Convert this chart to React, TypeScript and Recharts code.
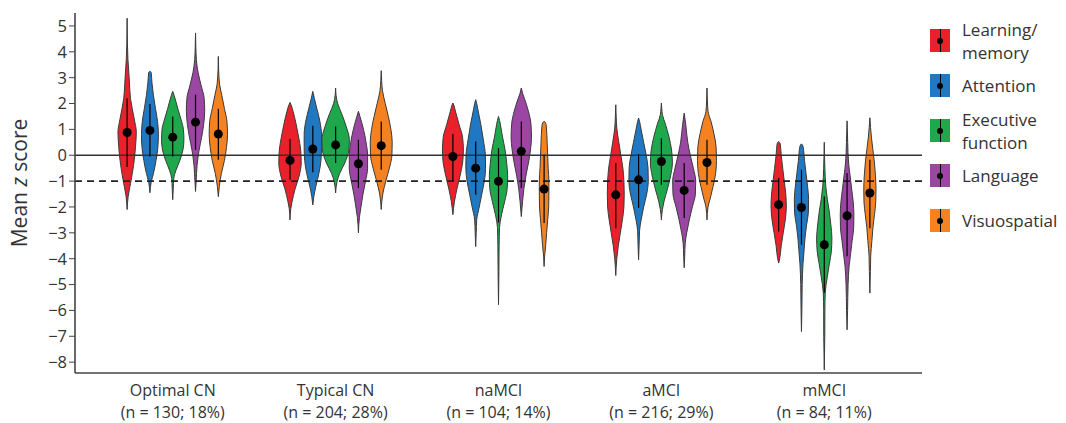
import {
  ComposedChart,
  Area,
  Scatter,
  ErrorBar,
  XAxis,
  YAxis,
  ReferenceLine,
} from "recharts";

const groups = ["Optimal CN", "Typical CN", "naMCI", "aMCI", "mMCI"];
const groupSizes = [
  "(n = 130; 18%)",
  "(n = 204; 28%)",
  "(n = 104; 14%)",
  "(n = 216; 29%)",
  "(n = 84; 11%)",
];
const domainLabels = [
  ["Learning/", "memory"],
  ["Attention"],
  ["Executive", "function"],
  ["Language"],
  ["Visuospatial"],
];
const domainColors = ["#e8212b", "#1f78c1", "#1ea84b", "#9a46a2", "#f58221"];
const yTicks = [-8, -7, -6, -5, -4, -3, -2, -1, 0, 1, 2, 3, 4, 5];

// mean z per group (rows) and domain (columns)
const means = [
  [0.88, 0.96, 0.7, 1.28, 0.82],
  [-0.2, 0.24, 0.4, -0.33, 0.37],
  [-0.05, -0.5, -1.01, 0.15, -1.31],
  [-1.53, -0.95, -0.24, -1.36, -0.28],
  [-1.91, -2.02, -3.46, -2.34, -1.46],
];
const whiskerLow = [
  [-0.45, -0.05, -0.05, 0.21, -0.17],
  [-0.95, -0.66, -0.3, -1.27, -0.56],
  [-1.0, -1.53, -2.6, -1.27, -2.62],
  [-2.82, -2.04, -1.14, -2.43, -1.14],
  [-2.95, -3.46, -5.33, -3.91, -2.82],
];
const whiskerHigh = [
  [2.2, 1.98, 1.5, 2.34, 1.8],
  [0.63, 1.14, 1.11, 0.6, 1.3],
  [0.82, 0.53, 0.28, 1.3, 0.02],
  [-0.3, 0.05, 0.66, -0.3, 0.6],
  [-0.88, -0.56, -1.6, -0.69, -0.17],
];

// violin outlines: [z, half width] read top to bottom
const optimalCnViolins = [
  [[5.3, 0], [4.3, 0.3], [3.7, 0.8], [3.0, 2], [2.2, 3.3], [1.4, 7], [0.9, 9], [0.35, 8.3], [-0.4, 6.3], [-1.1, 3.3], [-1.6, 1], [-2.1, 0]],
  [[3.25, 0], [3.2, 1.2], [2.8, 2], [2.3, 3.5], [1.8, 5.5], [1.3, 7.5], [0.8, 8.3], [0.3, 7.8], [-0.2, 6], [-0.7, 3.5], [-1.05, 1.2], [-1.45, 0]],
  [[2.47, 0], [2.3, 1.5], [1.8, 5], [1.4, 8], [1.0, 10.5], [0.6, 11], [0.2, 10], [-0.2, 7], [-0.6, 3], [-0.9, 1], [-1.3, 0.5], [-1.72, 0]],
  [[4.73, 0], [4.2, 0.3], [3.7, 0.8], [3.2, 2.5], [2.7, 5.5], [2.2, 8.5], [1.7, 9], [1.2, 8], [0.7, 6], [0.2, 3.5], [-0.4, 1.5], [-1.0, 0.6], [-1.4, 0]],
  [[3.82, 0], [3.3, 0.3], [2.75, 1.2], [2.3, 3.5], [1.8, 6], [1.3, 8.5], [0.8, 9], [0.3, 8], [-0.2, 6], [-0.7, 3], [-1.2, 1], [-1.6, 0]],
];
const typicalCnViolins = [
  [[2.04, 0], [1.9, 1.5], [1.7, 3], [1.2, 6], [0.7, 8.5], [0.2, 10.5], [-0.3, 11], [-0.8, 9], [-1.3, 5], [-1.8, 2], [-2.05, 0.8], [-2.5, 0]],
  [[2.47, 0], [2.2, 1.5], [1.8, 4], [1.3, 7], [0.8, 8.5], [0.3, 8.5], [-0.2, 8], [-0.7, 6], [-1.2, 3], [-1.6, 1], [-1.92, 0]],
  [[2.6, 0], [2.3, 0.5], [2.0, 2], [1.6, 6], [1.1, 10.5], [0.6, 13.5], [0.2, 13], [-0.3, 9], [-0.7, 4], [-1.0, 1.5], [-1.46, 0]],
  [[1.7, 0], [1.5, 1.5], [1.0, 5], [0.5, 7.5], [0, 9], [-0.5, 9], [-1.0, 7], [-1.5, 4.5], [-2.0, 2.5], [-2.4, 1], [-3.0, 0]],
  [[3.27, 0], [2.9, 0.4], [2.5, 1.2], [2.0, 4], [1.5, 7], [1.0, 9.5], [0.5, 10.8], [0, 10.5], [-0.5, 8], [-1.0, 4.5], [-1.5, 1.5], [-2.1, 0]],
];
const naMciViolins = [
  [[2.02, 0], [1.9, 1.2], [1.7, 2.5], [1.2, 6], [0.7, 9.5], [0.2, 10.3], [-0.3, 9.5], [-0.8, 7], [-1.3, 4], [-1.8, 1.5], [-2.3, 0]],
  [[2.15, 0], [2.0, 1], [1.8, 2], [1.2, 5], [0.6, 7.5], [0, 9.5], [-0.5, 9.7], [-1.0, 8.5], [-1.5, 6], [-2.0, 3.5], [-2.5, 1], [-3.0, 0.5], [-3.53, 0]],
  [[1.5, 0], [1.35, 1], [1.2, 1.8], [0.7, 4], [0.2, 6.5], [-0.3, 8], [-0.8, 9], [-1.3, 8.5], [-1.8, 6], [-2.3, 3], [-2.8, 1], [-3.5, 0.6], [-4.5, 0.4], [-5.78, 0]],
  [[2.6, 0], [2.4, 1.2], [2.2, 3], [1.7, 7], [1.2, 9.5], [0.7, 10], [0.2, 9], [-0.3, 7], [-0.8, 4.5], [-1.3, 2.5], [-1.8, 1.2], [-2.37, 0]],
  [[1.31, 0], [1.25, 1.5], [1.1, 2.2], [0.5, 3], [0, 3.5], [-0.5, 4], [-1.0, 4.7], [-1.5, 4.7], [-2.0, 4.5], [-2.5, 3.5], [-3.0, 2.5], [-3.5, 1.5], [-3.9, 0.5], [-4.3, 0]],
];
const aMciViolins = [
  [[1.95, 0], [1.5, 0.4], [1.05, 1], [0.5, 3], [0, 5], [-0.5, 7], [-1.0, 8], [-1.5, 8.3], [-2.0, 8], [-2.5, 6.5], [-3.0, 4.5], [-3.5, 2.5], [-4.0, 1], [-4.65, 0]],
  [[1.44, 0], [1.3, 1], [1.0, 2.5], [0.5, 5], [0, 7.5], [-0.5, 9.3], [-1.0, 9.5], [-1.5, 8], [-2.0, 5], [-2.5, 2.5], [-2.9, 1], [-3.5, 0.5], [-4.04, 0]],
  [[2.02, 0], [1.8, 0.4], [1.57, 1], [1.2, 4], [0.7, 7.5], [0.2, 10], [-0.3, 10.8], [-0.8, 9], [-1.3, 6], [-1.8, 2.5], [-2.1, 1], [-2.5, 0]],
  [[1.63, 0], [1.4, 0.8], [1.2, 1.5], [0.5, 3.5], [0, 6], [-0.5, 9], [-1.0, 11.3], [-1.5, 11], [-2.0, 8], [-2.5, 5], [-3.0, 2.5], [-3.4, 1], [-3.9, 0.5], [-4.35, 0]],
  [[2.6, 0], [2.1, 0.4], [1.7, 1], [1.3, 4], [0.8, 7], [0.3, 9], [-0.2, 9.3], [-0.7, 8.5], [-1.2, 6], [-1.7, 3], [-2.0, 1], [-2.5, 0]],
];
const mMciViolins = [
  [[0.53, 0], [0.45, 1.5], [0, 2.5], [-0.5, 4], [-1.0, 5.5], [-1.5, 7], [-2.0, 7.5], [-2.5, 6.5], [-3.0, 4.5], [-3.5, 2.5], [-4.0, 1], [-4.17, 0]],
  [[0.44, 0], [0.35, 1.5], [-0.2, 3], [-0.7, 4.5], [-1.2, 6], [-1.7, 7], [-2.2, 6.8], [-2.7, 5], [-3.2, 3.5], [-3.7, 2.5], [-4.2, 1.5], [-5.0, 0.7], [-6.0, 0.4], [-6.82, 0]],
  [[0.5, 0], [-0.5, 0.6], [-1.2, 1.5], [-1.7, 3], [-2.2, 5], [-2.7, 6.5], [-3.2, 7.5], [-3.7, 7], [-4.2, 5], [-4.7, 3], [-5.3, 1], [-6.0, 0.6], [-7.0, 0.5], [-8.3, 0]],
  [[1.33, 0], [0.5, 0.6], [-0.3, 1.5], [-0.8, 3], [-1.3, 4.5], [-1.8, 6], [-2.3, 6.7], [-2.8, 6.5], [-3.3, 5], [-3.8, 3.5], [-4.3, 2], [-5.0, 1], [-6.0, 0.5], [-6.75, 0]],
  [[1.45, 0], [0.7, 1.5], [0.2, 3], [-0.3, 4.5], [-0.8, 5.5], [-1.3, 6], [-1.8, 5.8], [-2.3, 4.5], [-2.8, 3], [-3.3, 2], [-3.9, 0.8], [-4.5, 0.5], [-5.33, 0]],
];
const violins = [optimalCnViolins, typicalCnViolins, naMciViolins, aMciViolins, mMciViolins];

const DODGE = 0.14; // spacing between domains inside a group (x units)
const WIDTH_UNIT = 0.00625; // half width unit -> x units

const violinSeries = violins.flatMap((groupViolins, g) =>
  groupViolins.map((profile, d) => {
    const center = g + 1 + (d - 2) * DODGE;
    const data = [...profile]
      .sort((a, b) => a[0] - b[0])
      .map(([z, w]) => ({ y: z, range: [center - w * WIDTH_UNIT, center + w * WIDTH_UNIT] }));
    return { key: `v-${g}-${d}`, color: domainColors[d], data };
  })
);

const summaryPoints = means.flatMap((row, g) =>
  row.map((m, d) => ({
    x: g + 1 + (d - 2) * DODGE,
    y: m,
    err: [m - whiskerLow[g][d], whiskerHigh[g][d] - m],
  }))
);

const FONT = "'Open Sans', 'Noto Sans', sans-serif";

// two-line category label under each group
const GroupTick = (props: any) => {
  const { x, y, payload } = props;
  const i = payload.value - 1;
  return (
    <g>
      <text x={x} y={y + 15} textAnchor="middle" fill="#333" fontSize={16} fontFamily={FONT}>
        {groups[i]}
      </text>
      <text x={x} y={y + 37} textAnchor="middle" fill="#333" fontSize={16} fontFamily={FONT}>
        {groupSizes[i]}
      </text>
    </g>
  );
};

const YLabel = (props: any) => {
  const vb = props.viewBox || { x: 0, y: 0, width: 0, height: 0 };
  const cx = vb.x + 19;
  const cy = vb.y + vb.height / 2 - 10;
  return (
    <text
      x={cx}
      y={cy}
      transform={`rotate(-90, ${cx}, ${cy})`}
      textAnchor="middle"
      dominantBaseline="central"
      fill="#333"
      fontSize={21}
      fontFamily={FONT}
    >
      Mean <tspan fontStyle="italic">z</tspan> score
    </text>
  );
};

const Dot = (props: any) => <circle cx={props.cx} cy={props.cy} r={4.5} fill="#000" />;

function Legend() {
  return (
    <div
      style={{
        position: "absolute",
        left: 930,
        top: 18,
        fontFamily: FONT,
        fontSize: 17,
        color: "#333",
        lineHeight: "23px",
      }}
    >
      {domainLabels.map((lines, d) => (
        <div key={d} style={{ display: "flex", alignItems: "center", height: 45 }}>
          <div
            style={{
              width: 20,
              height: 23,
              background: domainColors[d],
              position: "relative",
              marginRight: 12,
              flexShrink: 0,
            }}
          >
            <div style={{ position: "absolute", left: 9.5, top: 0, width: 1, height: 23, background: "#000" }} />
            <div
              style={{
                position: "absolute",
                left: 7,
                top: 8.5,
                width: 6,
                height: 6,
                borderRadius: 3,
                background: "#000",
              }}
            />
          </div>
          <div>
            {lines.map((l) => (
              <div key={l}>{l}</div>
            ))}
          </div>
        </div>
      ))}
    </div>
  );
}

export default function App() {
  return (
    <div style={{ position: "absolute", left: 0, top: 0, width: 1066, height: 423, background: "#fff" }}>
      <ComposedChart
        width={1066}
        height={423}
        layout="vertical"
        margin={{ top: 13, right: 144, bottom: 0, left: 0 }}
      >
        <XAxis
          type="number"
          dataKey="x"
          domain={[0.4, 5.6]}
          allowDataOverflow
          ticks={[1, 2, 3, 4, 5]}
          tick={<GroupTick />}
          tickLine={false}
          height={50}
          axisLine={{ stroke: "#444", strokeWidth: 1.6 }}
        />
        <YAxis
          type="number"
          dataKey="y"
          reversed
          domain={[-8.42, 5.5]}
          allowDataOverflow
          ticks={yTicks}
          interval={0}
          width={75}
          tickSize={6}
          tick={{ fill: "#333", fontSize: 16.5, fontFamily: FONT }}
          tickFormatter={(v: number) => String(v).replace("-", "\u2212")}
          tickLine={{ stroke: "#444" }}
          axisLine={{ stroke: "#444", strokeWidth: 1.6 }}
          label={<YLabel />}
        />
        <ReferenceLine y={0} stroke="#333" strokeWidth={1.5} />
        {violinSeries.map((s) => (
          <Area
            key={s.key}
            data={s.data}
            dataKey="range"
            type="monotone"
            fill={s.color}
            fillOpacity={1}
            stroke="#3a3a3a"
            strokeWidth={1}
            dot={false}
            activeDot={false}
            isAnimationActive={false}
          />
        ))}
        <ReferenceLine y={-1} stroke="#222" strokeWidth={1.8} strokeDasharray="7 5" />
        <Scatter data={summaryPoints} dataKey="y" shape={<Dot />} isAnimationActive={false}>
          <ErrorBar dataKey="err" direction="y" width={0} stroke="#000" strokeWidth={1.2} />
        </Scatter>
      </ComposedChart>
      <Legend />
    </div>
  );
}
